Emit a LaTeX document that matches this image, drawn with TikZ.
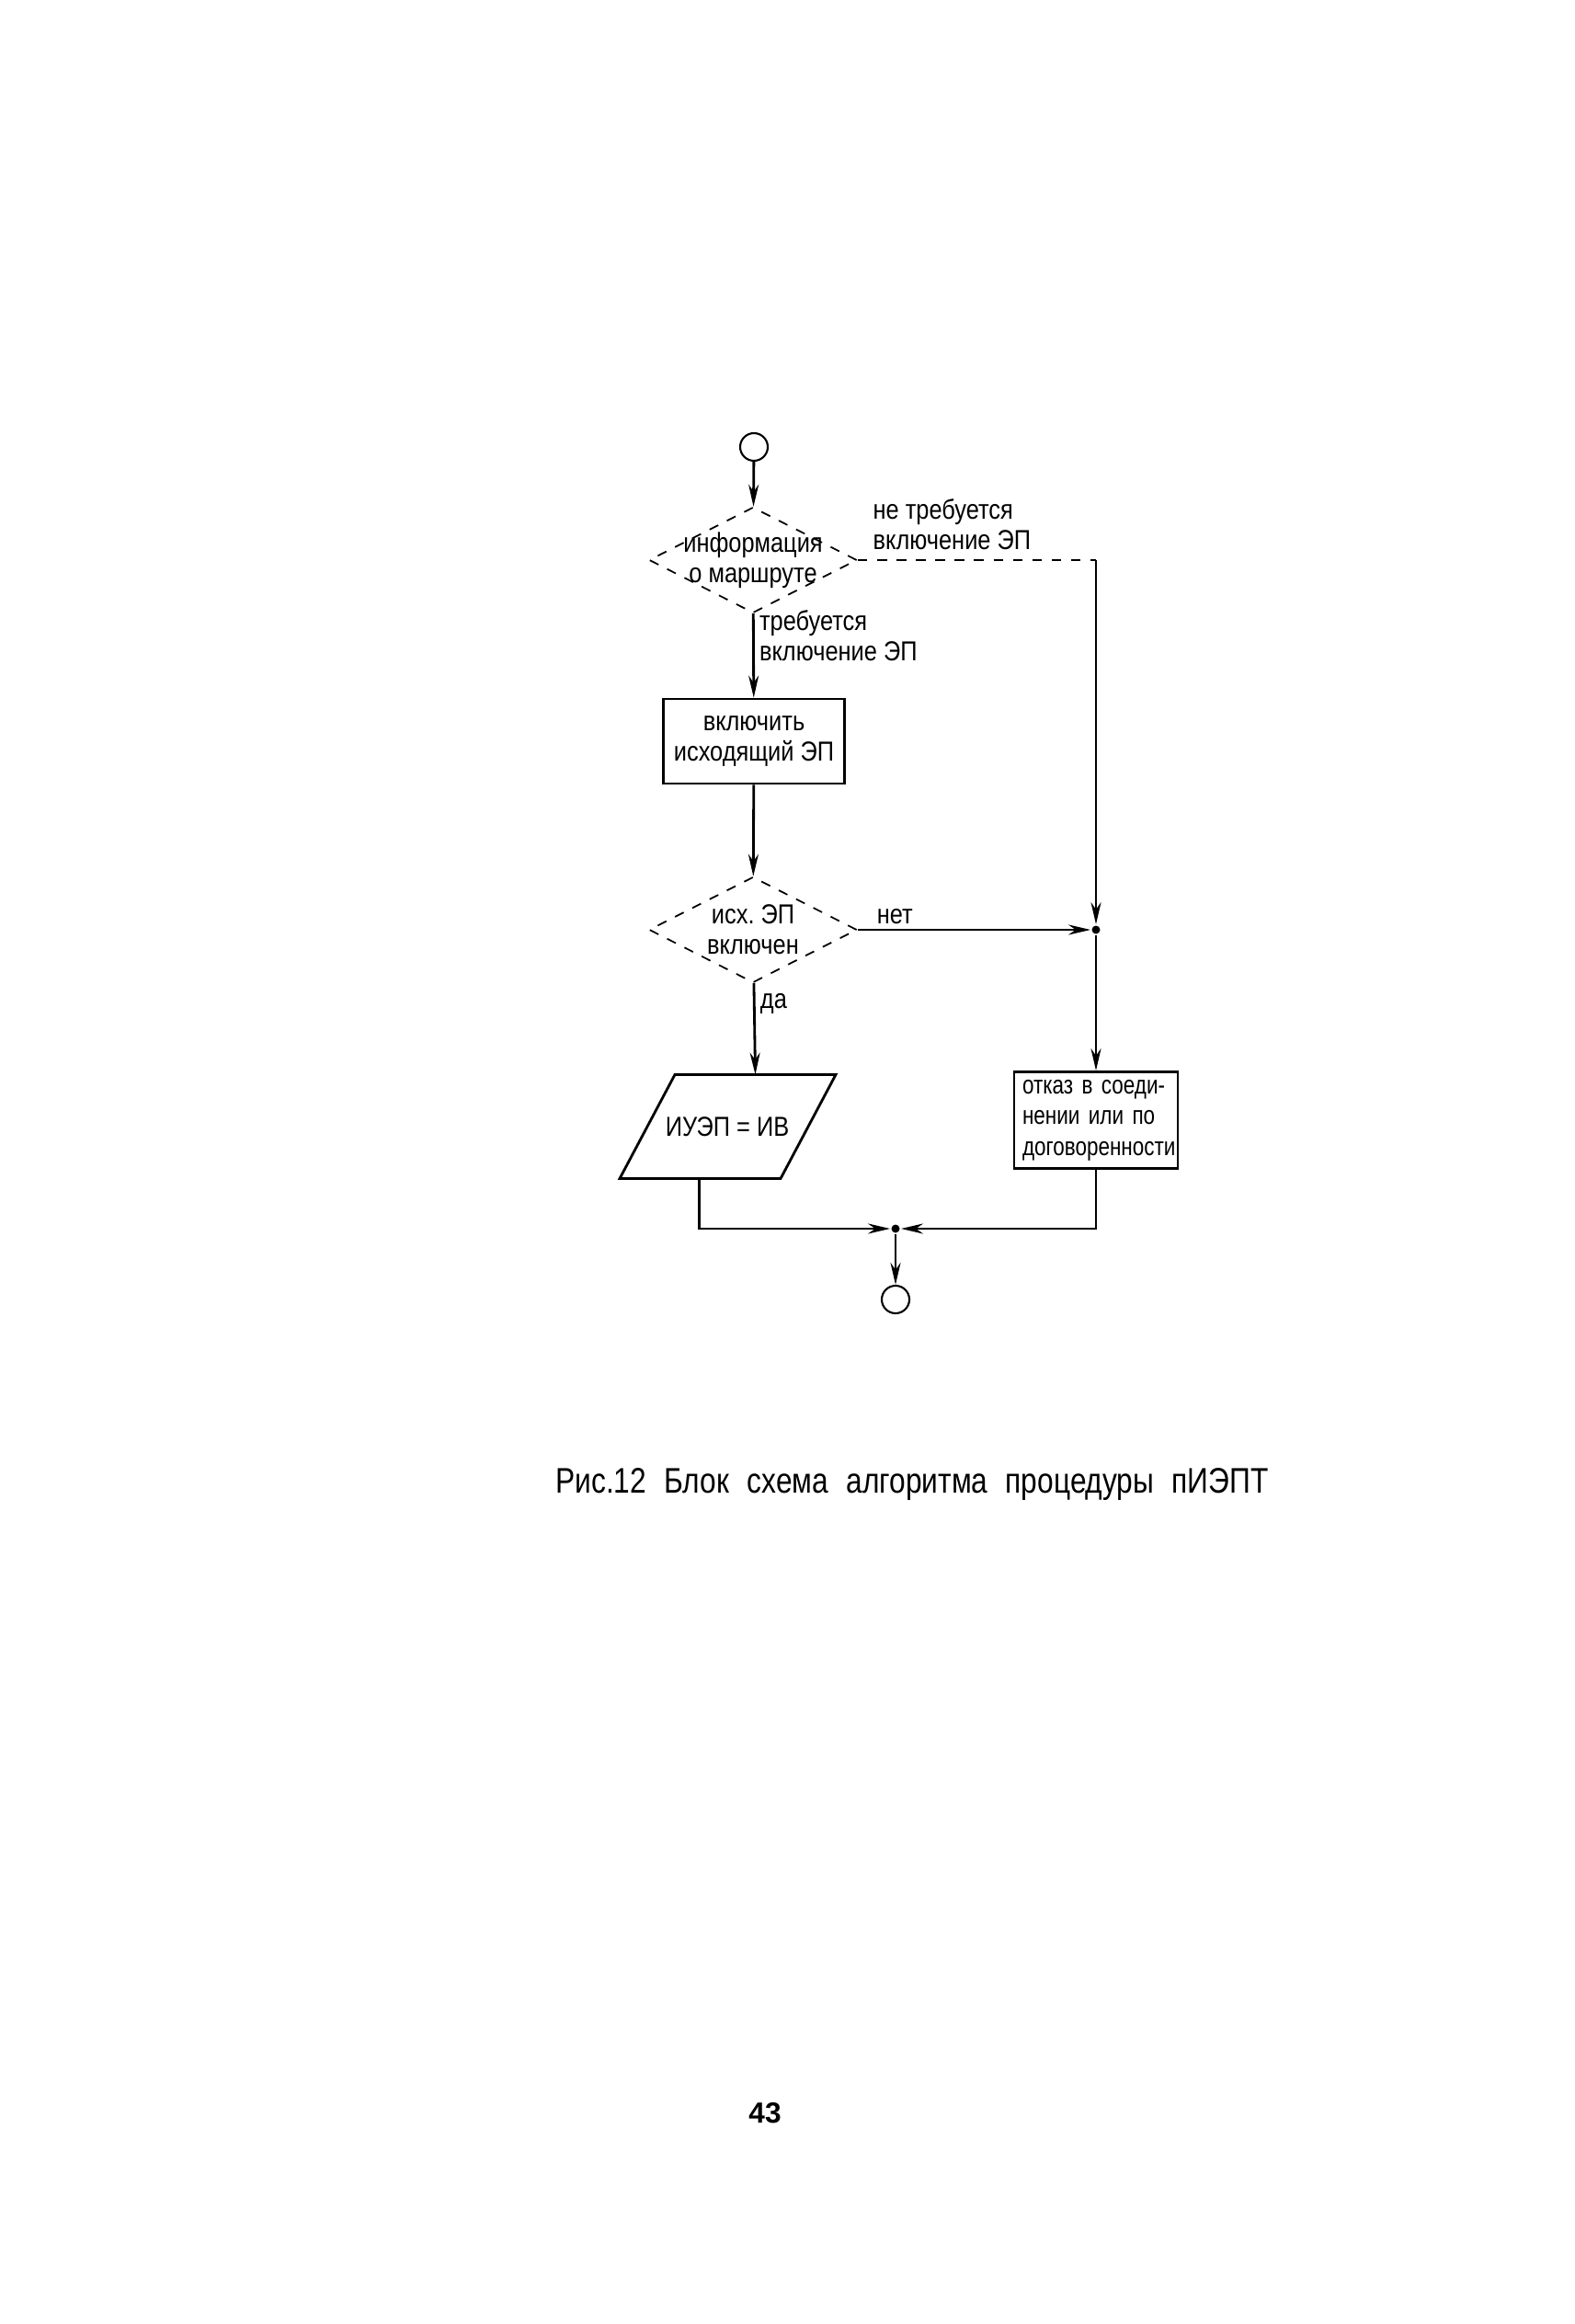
\documentclass[tikz,border=0pt]{standalone}
\usepackage{fontspec}
\setmainfont{Liberation Sans}
\newfontfamily\chartfont[FakeStretch=0.85]{Liberation Sans}
\newfontfamily\boxfont[FakeStretch=0.8]{Liberation Sans}
\newfontfamily\capfont[FakeStretch=0.82, WordSpace=2.2]{Liberation Sans}
\usetikzlibrary{arrows.meta, positioning, shapes.geometric, calc}

\newcommand{\jline}[1]{\makebox[\linewidth][s]{#1}}

\begin{document}
\begin{tikzpicture}[
    >={Stealth[length=2.4mm, width=1.1mm]}, line width=0.8pt,
    txt/.style={font=\chartfont\fontsize{8.5}{9.5}\selectfont, align=center},
    terminal/.style={circle, draw, line width=0.6pt, minimum size=0.3cm, inner sep=0},
    decision/.style={diamond, draw, dashed, line width=0.5pt, minimum width=2.26cm,
                     minimum height=1.15cm, inner sep=0},
    process/.style={rectangle, draw, txt, minimum width=1.9cm, minimum height=0.92cm},
    lbl/.style={txt, align=left, inner sep=1.5pt},
    dot/.style={circle, fill, inner sep=0, minimum size=0.09cm},
  ]
  \useasboundingbox (0,0) rectangle (17.12,-25.27);
  \fill[white] (0,0) rectangle (17.12,-25.27);

  % начало и выбор маршрута
  \node[terminal] (start) at (8.20,-4.86) {};
  \node[decision, label={[txt]center:информация\\о маршруте}] (route) at (8.19,-6.09) {};
  \node[lbl, anchor=west] (noneed) at (9.43,-5.70) {не требуется\\включение ЭП};
  \draw[->] (start) -- (route);

  % включение исходящего ЭП
  \node[process] (turnon) at (8.20,-8.06) {включить\\исходящий ЭП};
  \node[decision, label={[txt]center:исх.~ЭП\\включен}] (check) at (8.19,-10.11) {};
  \draw[->] (route) -- node[lbl, right, pos=0.26] {требуется\\включение ЭП} (turnon);
  \draw[->] (turnon) -- (check);

  % ИУЭП = ИВ
  \node[txt] (assign) at (7.91,-12.25) {ИУЭП = ИВ};
  \draw ($(assign)+(-0.57,0.565)$) -- ++(1.75,0) -- ++(-0.60,-1.13) -- ++(-1.75,0) -- cycle;
  \coordinate (assign-top) at ($(assign)+(0.305,0.565)$);
  \coordinate (assign-bot) at ($(assign)+(-0.305,-0.565)$);
  \draw[->] (check) -- node[lbl, right, pos=0.23] {да} (assign-top);

  % отказ
  \coordinate (corner) at (11.92,-6.09);
  \node[dot] (rj) at (11.92,-10.11) {};
  \node[process, font=\boxfont\fontsize{8}{9.5}\selectfont, minimum width=1.78cm,
        minimum height=1.05cm, text width=1.6cm, inner sep=1pt] (refuse) at (11.92,-12.18)
       {\jline{отказ в соеди-}\\\jline{нении или по}\\\jline{договоренности}};
  \draw[dashed, line width=0.5pt] (route.east) -- (corner);
  \draw[->] (corner) -- (rj);
  \draw[->] (check.east) -- node[lbl, above, pos=0.16] {нет} (rj);
  \draw[->] (rj) -- (refuse);

  % конец
  \node[dot] (bj) at (9.74,-13.36) {};
  \node[terminal] (stop) at (9.74,-14.13) {};
  \draw[->] (assign-bot) |- (bj);
  \draw[->] (refuse) |- (bj);
  \draw[->] (bj) -- (stop);

  \node[font=\capfont\fontsize{11}{13}\selectfont] (caption) at (9.92,-16.14)
       {Рис.12 Блок схема алгоритма процедуры пИЭПТ};
  \node[font=\bfseries\fontsize{9}{10}\selectfont] (page) at (8.32,-22.98) {43};
\end{tikzpicture}
\end{document}
